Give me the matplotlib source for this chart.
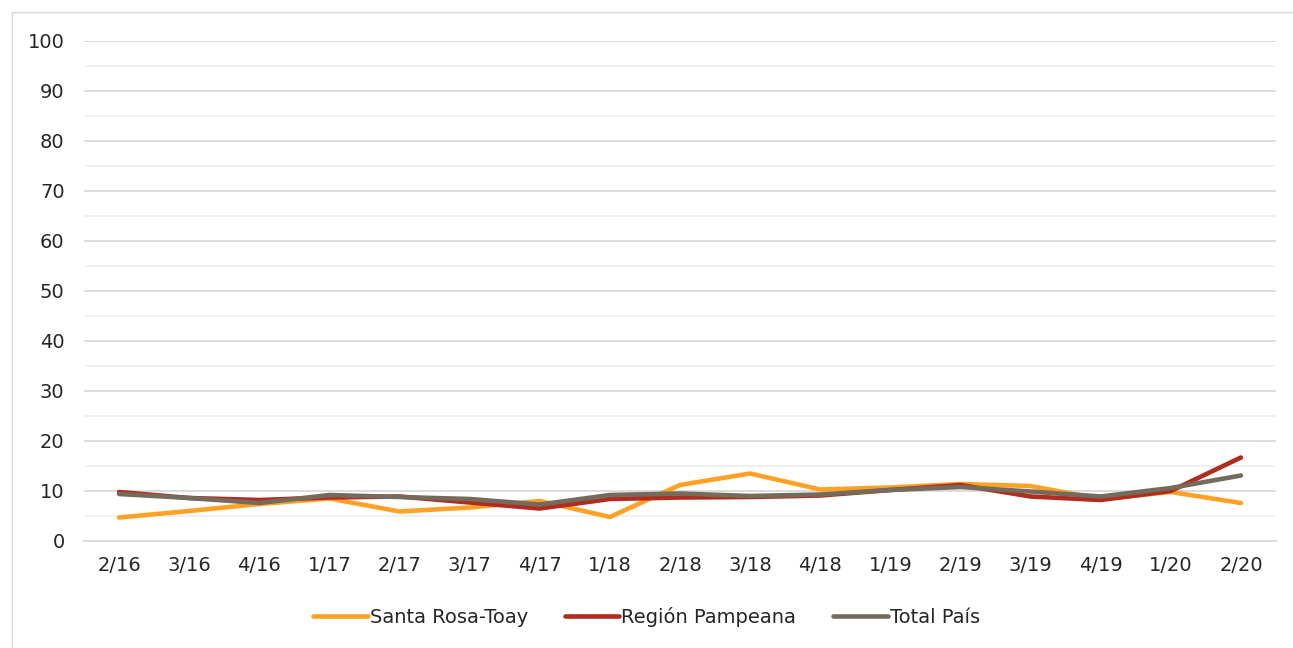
import matplotlib
matplotlib.use("Agg")
import matplotlib.pyplot as plt
from matplotlib.patches import Rectangle
import numpy as np

categories = ["2/16", "3/16", "4/16", "1/17", "2/17", "3/17", "4/17", "1/18", "2/18",
              "3/18", "4/18", "1/19", "2/19", "3/19", "4/19", "1/20", "2/20"]
santa_rosa = [4.7, 6.0, 7.4, 8.5, 5.9, 6.7, 8.0, 4.8, 11.2, 13.5, 10.3, 10.7, 11.4, 11.0, 8.4, 9.8, 7.6]
region_pampeana = [9.8, 8.6, 8.2, 8.7, 8.9, 7.7, 6.5, 8.4, 8.7, 8.8, 9.1, 10.2, 11.2, 8.9, 8.2, 10.0, 16.7]
total_pais = [9.4, 8.6, 7.6, 9.2, 8.8, 8.4, 7.3, 9.2, 9.5, 9.0, 9.3, 10.2, 10.8, 9.9, 8.9, 10.6, 13.1]
series_names = ["Santa Rosa-Toay", "Región Pampeana", "Total País"]
colors = ["#FFA124", "#B22B1F", "#756B5C"]
yticks = list(range(0, 101, 10))

plt.rcParams['font.family'] = ['DejaVu Sans']
fig = plt.figure(figsize=(12.93, 6.48), dpi=100)
fig.patches.append(Rectangle((12/1293, -0.01), 1.02, 1 - 12/648 + 0.01, transform=fig.transFigure,
                             fill=False, edgecolor="#d9d9d9", linewidth=1.0))
ax = fig.add_axes([84/1293, 1 - 541/648, (1276-84)/1293, (541-41)/648])

x = np.arange(len(categories))
for vals, name, c in zip([santa_rosa, region_pampeana, total_pais], series_names, colors):
    ax.plot(x, vals, color=c, linewidth=3.3, label=name, solid_capstyle="round", solid_joinstyle="round")

ax.set_xlim(-0.5, len(categories) - 0.5)
ax.set_ylim(0, 100)
ax.set_yticks(yticks)
ax.set_yticks(np.arange(5, 100, 10), minor=True)
ax.set_xticks(x)
ax.set_xticklabels(categories)
ax.grid(axis="y", which="major", color="#d9d9d9", linewidth=1.3)
ax.grid(axis="y", which="minor", color="#f0f0f0", linewidth=1.3)
ax.set_axisbelow(True)
for s in ["top", "right", "left"]:
    ax.spines[s].set_visible(False)
ax.spines["bottom"].set_color("#d9d9d9")
ax.spines["bottom"].set_linewidth(1.3)
ax.tick_params(axis="both", which="both", length=0, labelsize=14, colors="#262626")
ax.tick_params(axis="y", pad=14)
ax.tick_params(axis="x", pad=11)

leg = fig.legend(loc="center", bbox_to_anchor=(0.5, 1 - 617/648), ncol=3, frameon=False,
                 fontsize=14, handlelength=2.8, columnspacing=1.9, handletextpad=0.1)
for t in leg.get_texts():
    t.set_color("#262626")

fig.savefig("out.png", dpi=100)
